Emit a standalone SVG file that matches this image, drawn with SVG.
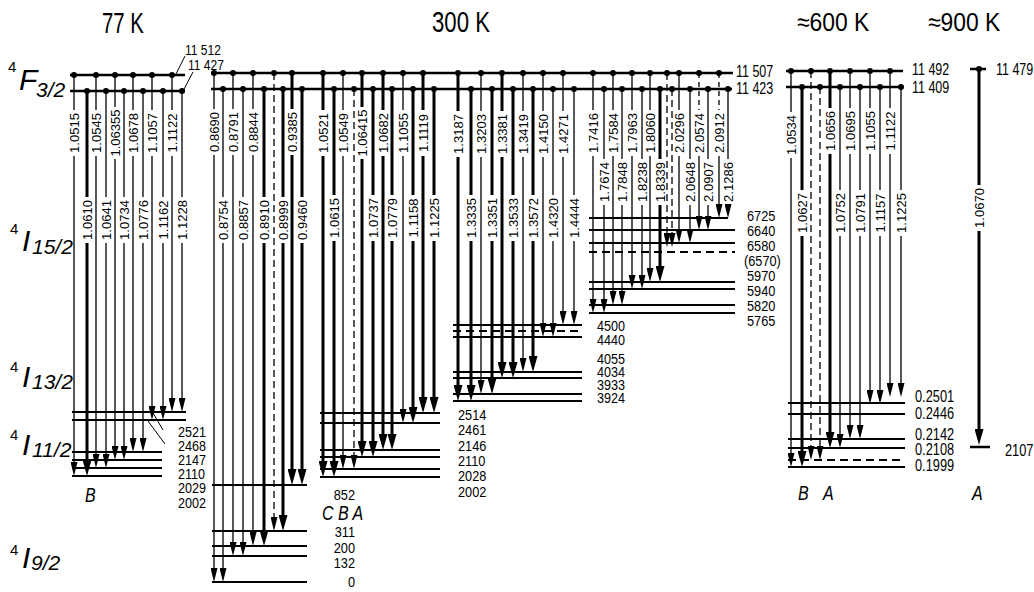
<svg xmlns="http://www.w3.org/2000/svg" width="1034" height="592" viewBox="0 0 1034 592">
<defs>
<marker id="a" viewBox="0 0 14 7" refX="4" refY="3.5" markerWidth="14" markerHeight="7" markerUnits="userSpaceOnUse" orient="auto"><path d="M0,0 L14,3.5 L0,7z" fill="#000"/></marker>
<marker id="b" viewBox="0 0 16 9" refX="4" refY="4.5" markerWidth="16" markerHeight="9" markerUnits="userSpaceOnUse" orient="auto"><path d="M0,0 L16,4.5 L0,9z" fill="#000"/></marker>
</defs>
<style>
.t{stroke:#000;stroke-width:1.3;fill:none;marker-end:url(#a)}
.k{stroke:#000;stroke-width:3;fill:none;marker-end:url(#b)}
.d{stroke:#000;stroke-width:1.3;fill:none;stroke-dasharray:7 4;marker-end:url(#a)}
.dn{stroke:#000;stroke-width:1.3;fill:none;stroke-dasharray:5 4}
.lv{stroke:#000;stroke-width:2;fill:none}
.ld{stroke:#000;stroke-width:2;fill:none;stroke-dasharray:8 5}
.up{stroke:#000;stroke-width:2.6;fill:none}
.thin{stroke:#000;stroke-width:1;fill:none}
circle{fill:#000}
text{font-family:"Liberation Sans",Arial,sans-serif;fill:#000}
.r{font-size:13px;text-anchor:middle}
.n{font-size:14px}
.ti{font-size:30px}
.it{font-size:20px;font-style:italic}
.term{font-size:30px;font-style:italic}
.sup{font-size:15px}
.sub{font-size:21px;font-style:italic}
</style>
<rect width="1034" height="592" fill="#fff"/>

<g id="titles">
<text class="ti" transform="translate(102,33) scale(0.68,1)">77 K</text>
<text class="ti" transform="translate(432,32) scale(0.74,1)">300 K</text>
<text class="ti" style="font-size:26px" transform="translate(797,31) scale(0.88,1)">≈600 K</text>
<text class="ti" style="font-size:26px" transform="translate(928,31) scale(0.88,1)">≈900 K</text>
</g>

<g id="terms">
<text><tspan class="sup" x="8" y="72">4</tspan><tspan class="term" x="19" y="90">F</tspan><tspan class="sub" x="36" y="97">3/2</tspan></text>
<text><tspan class="sup" x="10" y="234">4</tspan><tspan class="term" x="22" y="251">I</tspan><tspan class="sub" x="32" y="254">15/2</tspan></text>
<text><tspan class="sup" x="10" y="372">4</tspan><tspan class="term" x="22" y="387">I</tspan><tspan class="sub" x="32" y="389">13/2</tspan></text>
<text><tspan class="sup" x="10" y="440">4</tspan><tspan class="term" x="22" y="455">I</tspan><tspan class="sub" x="32" y="457">11/2</tspan></text>
<text><tspan class="sup" x="10" y="555">4</tspan><tspan class="term" x="22" y="568">I</tspan><tspan class="sub" x="31" y="570">9/2</tspan></text>
</g>

<g id="node-77K">
<path class="up" d="M70 75H185M70 91H185"/>
<path class="lv" d="M72 412H186M72 420H186M72 452H162M72 460H162M72 468H162M72 476H162"/>
<path class="thin" d="M153 413L163 430M148 421L165 444M176 74L185 56M183 91L193 72"/>
<text class="n" style="font-size:15px" transform="translate(185,55) scale(0.8,1)">11 512</text>
<text class="n" style="font-size:15px" transform="translate(188,70) scale(0.8,1)">11 427</text>
<g class="n">
<text transform="translate(178,437) scale(0.9,1)">2521</text>
<text transform="translate(178,451) scale(0.9,1)">2468</text>
<text transform="translate(178,465) scale(0.9,1)">2147</text>
<text transform="translate(178,479) scale(0.9,1)">2110</text>
<text transform="translate(178,493) scale(0.9,1)">2029</text>
<text transform="translate(178,508) scale(0.9,1)">2002</text>
</g>
<text class="it" transform="translate(85,502) scale(0.8,1)">B</text>
</g>

<g id="node-300K">
<path class="up" d="M211 73H733M211 89H732"/>
<path class="lv" d="M212 485H307M212 531H307M212 546H307M212 556H307M212 582H307"/>
<path class="lv" d="M320 413H440M320 423H440M320 450H440M320 457H440M320 469H440M320 477H440"/>
<path class="lv" d="M453 325H582M453 337H582M453 372H582M453 378H582M453 394H582M453 401H582"/>
<path class="ld" d="M453 331H582"/>
<path class="lv" d="M589 218H728M589 230H735M589 243H735M589 282H735M589 289H735M589 305H735M589 313H735"/>
<path class="ld" d="M589 252H735"/>
<text class="n" transform="translate(736,77) scale(0.78,1)" style="font-size:16px">11 507</text>
<text class="n" transform="translate(736,94) scale(0.78,1)" style="font-size:16px">11 423</text>
<g class="n" text-anchor="end" style="font-size:15px">
<text transform="translate(355,500) scale(0.85,1)">852</text>
<text transform="translate(355,537) scale(0.85,1)">311</text>
<text transform="translate(355,553) scale(0.85,1)">200</text>
<text transform="translate(355,568) scale(0.85,1)">132</text>
<text transform="translate(355,587) scale(0.85,1)">0</text>
</g>
<text class="it" transform="translate(322,520) scale(0.8,1)">C B A</text>
<g class="n" style="font-size:15px">
<text transform="translate(458,420) scale(0.85,1)">2514</text>
<text transform="translate(458,435) scale(0.85,1)">2461</text>
<text transform="translate(458,451) scale(0.85,1)">2146</text>
<text transform="translate(458,466) scale(0.85,1)">2110</text>
<text transform="translate(458,481) scale(0.85,1)">2028</text>
<text transform="translate(458,497) scale(0.85,1)">2002</text>
</g>
<g class="n">
<text transform="translate(597,331) scale(0.9,1)">4500</text>
<text transform="translate(597,345) scale(0.9,1)">4440</text>
<text transform="translate(597,364) scale(0.9,1)">4055</text>
<text transform="translate(597,377) scale(0.9,1)">4034</text>
<text transform="translate(597,390) scale(0.9,1)">3933</text>
<text transform="translate(597,403) scale(0.9,1)">3924</text>
</g>
<g class="n" style="font-size:15px">
<text transform="translate(747,221) scale(0.85,1)">6725</text>
<text transform="translate(747,236) scale(0.85,1)">6640</text>
<text transform="translate(747,251) scale(0.85,1)">6580</text>
<text transform="translate(744,266) scale(0.85,1)">(6570)</text>
<text transform="translate(747,281) scale(0.85,1)">5970</text>
<text transform="translate(747,296) scale(0.85,1)">5940</text>
<text transform="translate(747,311) scale(0.85,1)">5820</text>
<text transform="translate(747,326) scale(0.85,1)">5765</text>
</g>
</g>

<g id="node-600K">
<path class="up" d="M786 71H903M786 87H903"/>
<path class="lv" d="M788 403H905M788 414H905M788 439H905M788 448H905M788 467H905"/>
<path class="ld" d="M788 460H905"/>
<text class="n" transform="translate(912,75) scale(0.78,1)" style="font-size:16px">11 492</text>
<text class="n" transform="translate(912,93) scale(0.78,1)" style="font-size:16px">11 409</text>
<g class="n" style="font-size:16px">
<text transform="translate(915,402) scale(0.8,1)">0.2501</text>
<text transform="translate(915,419) scale(0.8,1)">0.2446</text>
<text transform="translate(915,440) scale(0.8,1)">0.2142</text>
<text transform="translate(915,455) scale(0.8,1)">0.2108</text>
<text transform="translate(915,471) scale(0.8,1)">0.1999</text>
</g>
<text class="it" transform="translate(798,500) scale(0.8,1)">B</text>
<text class="it" transform="translate(823,500) scale(0.8,1)">A</text>
</g>

<g id="node-900K">
<path class="up" d="M970 69H986M970 447H990"/>
<text class="n" transform="translate(996,75) scale(0.78,1)" style="font-size:16px">11 479</text>
<text class="n" transform="translate(1005,456) scale(0.8,1)" style="font-size:16px">2107</text>
<text class="it" transform="translate(972,500) scale(0.8,1)">A</text>
</g>

<g id="connectors">
<!-- 77 K -->
<path class="t" d="M74 75V110M74 156V466"/>
<path class="k" d="M87 91V197M87 243V464"/>
<path class="t" d="M96 75V110M96 156V458"/>
<path class="t" d="M106 91V197M106 243V458"/>
<path class="t" d="M115 75V107M115 159V450"/>
<path class="t" d="M124 91V197M124 243V450"/>
<path class="t" d="M133 75V110M133 156V442"/>
<path class="t" d="M143 91V197M143 243V442"/>
<path class="t" d="M152 75V110M152 156V410"/>
<path class="t" d="M163 91V197M163 243V410"/>
<path class="t" d="M172 75V110M172 156V402"/>
<path class="t" d="M182 91V197M182 243V402"/>
<!-- 300 K, 4I9/2 -->
<path class="t" d="M214 73V109M214 155V572"/>
<path class="t" d="M223 89V197M223 243V572"/>
<path class="t" d="M233 73V109M233 155V546"/>
<path class="t" d="M243 89V197M243 243V546"/>
<path class="t" d="M253 73V109M253 155V536"/>
<path class="k" d="M264 89V197M264 243V534"/>
<path class="d" d="M274 73V521"/>
<path class="k" d="M283 89V197M283 243V519"/>
<path class="k" d="M292 73V109M292 155V473"/>
<path class="k" d="M302 89V197M302 243V473"/>
<!-- 300 K, 4I11/2 -->
<path class="k" d="M323 73V110M323 156V465"/>
<path class="k" d="M334 89V195M334 241V465"/>
<path class="t" d="M343 73V110M343 156V459"/>
<path class="d" d="M354 89V459"/>
<path class="k" d="M362 73V107M362 159V445"/>
<path class="k" d="M373 89V195M373 241V445"/>
<path class="k" d="M383 73V110M383 156V438"/>
<path class="k" d="M392 89V195M392 241V438"/>
<path class="t" d="M403 73V110M403 156V413"/>
<path class="k" d="M413 89V195M413 241V411"/>
<path class="k" d="M423 73V110M423 156V401"/>
<path class="k" d="M434 89V195M434 241V401"/>
<!-- 300 K, 4I13/2 -->
<path class="k" d="M458 73V111M458 157V389"/>
<path class="k" d="M471 89V195M471 241V389"/>
<path class="t" d="M481 73V111M481 157V384"/>
<path class="k" d="M492 89V195M492 241V382"/>
<path class="k" d="M502 73V111M502 157V366"/>
<path class="k" d="M513 89V195M513 241V366"/>
<path class="t" d="M523 73V111M523 157V362"/>
<path class="k" d="M533 89V195M533 241V360"/>
<path class="t" d="M543 73V111M543 157V327"/>
<path class="t" d="M553 89V195M553 241V327"/>
<path class="t" d="M563 73V111M563 157V315"/>
<path class="t" d="M574 89V195M574 241V315"/>
<!-- 300 K, 4I15/2 -->
<path class="t" d="M593 73V110M593 156V303"/>
<path class="t" d="M604 89V159M604 205V303"/>
<path class="t" d="M613 73V110M613 156V295"/>
<path class="t" d="M622 89V159M622 205V295"/>
<path class="t" d="M632 73V110M632 156V279"/>
<path class="t" d="M642 89V159M642 205V279"/>
<path class="t" d="M650 73V110M650 156V272"/>
<path class="k" d="M660 89V159M660 205V270"/>
<path class="d" d="M667 73V237"/>
<path class="d" d="M672 89V237"/>
<path class="t" d="M679 73V110M679 156V233"/>
<path class="t" d="M690 89V159M690 205V233"/>
<path class="dn" d="M699 73V110"/>
<path class="t" d="M699 156V220"/>
<path class="t" d="M708 89V159M708 205V220"/>
<path class="dn" d="M719 73V110"/>
<path class="t" d="M719 156V208"/>
<path class="t" d="M728 89V159M728 205V208"/>
<!-- 600 K -->
<path class="t" d="M791 71V112M791 158V457"/>
<path class="k" d="M802 87V190M802 236V455"/>
<path class="d" d="M811 71V450"/>
<path class="d" d="M820 87V450"/>
<path class="k" d="M830 71V108M830 154V436"/>
<path class="t" d="M840 87V190M840 236V438"/>
<path class="t" d="M850 71V108M850 154V429"/>
<path class="t" d="M860 87V190M860 236V429"/>
<path class="t" d="M870 71V108M870 154V394"/>
<path class="t" d="M880 87V190M880 236V394"/>
<path class="t" d="M890 71V108M890 154V387"/>
<path class="t" d="M901 87V190M901 236V387"/>
<!-- 900 K -->
<path class="k" d="M979 69V185M979 231V433"/>
</g>

<g id="dots">
<circle cx="74" cy="75" r="3"/><circle cx="96" cy="75" r="3"/><circle cx="115" cy="75" r="3"/><circle cx="133" cy="75" r="3"/><circle cx="152" cy="75" r="3"/><circle cx="172" cy="75" r="3"/>
<circle cx="87" cy="91" r="3"/><circle cx="106" cy="91" r="3"/><circle cx="124" cy="91" r="3"/><circle cx="143" cy="91" r="3"/><circle cx="163" cy="91" r="3"/><circle cx="182" cy="91" r="3"/>
<circle cx="214" cy="73" r="3"/><circle cx="233" cy="73" r="3"/><circle cx="253" cy="73" r="3"/><circle cx="274" cy="73" r="3"/><circle cx="292" cy="73" r="3"/>
<circle cx="323" cy="73" r="3"/><circle cx="343" cy="73" r="3"/><circle cx="362" cy="73" r="3"/><circle cx="383" cy="73" r="3"/><circle cx="403" cy="73" r="3"/><circle cx="423" cy="73" r="3"/>
<circle cx="458" cy="73" r="3"/><circle cx="481" cy="73" r="3"/><circle cx="502" cy="73" r="3"/><circle cx="523" cy="73" r="3"/><circle cx="543" cy="73" r="3"/><circle cx="563" cy="73" r="3"/>
<circle cx="593" cy="73" r="3"/><circle cx="613" cy="73" r="3"/><circle cx="632" cy="73" r="3"/><circle cx="650" cy="73" r="3"/><circle cx="667" cy="73" r="3"/><circle cx="679" cy="73" r="3"/><circle cx="699" cy="73" r="3"/><circle cx="719" cy="73" r="3"/>
<circle cx="223" cy="89" r="3"/><circle cx="243" cy="89" r="3"/><circle cx="264" cy="89" r="3"/><circle cx="283" cy="89" r="3"/><circle cx="302" cy="89" r="3"/>
<circle cx="334" cy="89" r="3"/><circle cx="354" cy="89" r="3"/><circle cx="373" cy="89" r="3"/><circle cx="392" cy="89" r="3"/><circle cx="413" cy="89" r="3"/><circle cx="434" cy="89" r="3"/>
<circle cx="471" cy="89" r="3"/><circle cx="492" cy="89" r="3"/><circle cx="513" cy="89" r="3"/><circle cx="533" cy="89" r="3"/><circle cx="553" cy="89" r="3"/><circle cx="574" cy="89" r="3"/>
<circle cx="604" cy="89" r="3"/><circle cx="622" cy="89" r="3"/><circle cx="642" cy="89" r="3"/><circle cx="660" cy="89" r="3"/><circle cx="672" cy="89" r="3"/><circle cx="690" cy="89" r="3"/><circle cx="708" cy="89" r="3"/><circle cx="728" cy="89" r="3"/>
<circle cx="791" cy="71" r="3"/><circle cx="811" cy="71" r="3"/><circle cx="830" cy="71" r="3"/><circle cx="850" cy="71" r="3"/><circle cx="870" cy="71" r="3"/><circle cx="890" cy="71" r="3"/>
<circle cx="802" cy="87" r="3"/><circle cx="820" cy="87" r="3"/><circle cx="840" cy="87" r="3"/><circle cx="860" cy="87" r="3"/><circle cx="880" cy="87" r="3"/><circle cx="901" cy="87" r="3"/>
<circle cx="979" cy="69" r="3"/>
</g>

<g id="transition-labels">
<text class="r" transform="translate(78.5,133) rotate(-90)">1.0515</text>
<text class="r" transform="translate(91.5,220) rotate(-90)">1.0610</text>
<text class="r" transform="translate(100.5,133) rotate(-90)">1.0545</text>
<text class="r" transform="translate(110.5,220) rotate(-90)">1.0641</text>
<text class="r" transform="translate(119.5,133) rotate(-90)">1.06355</text>
<text class="r" transform="translate(128.5,220) rotate(-90)">1.0734</text>
<text class="r" transform="translate(137.5,133) rotate(-90)">1.0678</text>
<text class="r" transform="translate(147.5,220) rotate(-90)">1.0776</text>
<text class="r" transform="translate(156.5,133) rotate(-90)">1.1057</text>
<text class="r" transform="translate(167.5,220) rotate(-90)">1.1162</text>
<text class="r" transform="translate(176.5,133) rotate(-90)">1.1122</text>
<text class="r" transform="translate(186.5,220) rotate(-90)">1.1228</text>

<text class="r" transform="translate(218.5,132) rotate(-90)">0.8690</text>
<text class="r" transform="translate(227.5,220) rotate(-90)">0.8754</text>
<text class="r" transform="translate(237.5,132) rotate(-90)">0.8791</text>
<text class="r" transform="translate(247.5,220) rotate(-90)">0.8857</text>
<text class="r" transform="translate(257.5,132) rotate(-90)">0.8844</text>
<text class="r" transform="translate(268.5,220) rotate(-90)">0.8910</text>
<text class="r" transform="translate(287.5,220) rotate(-90)">0.8999</text>
<text class="r" transform="translate(296.5,132) rotate(-90)">0.9385</text>
<text class="r" transform="translate(306.5,220) rotate(-90)">0.9460</text>

<text class="r" transform="translate(327.5,133) rotate(-90)">1.0521</text>
<text class="r" transform="translate(338.5,218) rotate(-90)">1.0615</text>
<text class="r" transform="translate(347.5,133) rotate(-90)">1.0549</text>
<text class="r" transform="translate(366.5,133) rotate(-90)">1.06415</text>
<text class="r" transform="translate(377.5,218) rotate(-90)">1.0737</text>
<text class="r" transform="translate(387.5,133) rotate(-90)">1.0682</text>
<text class="r" transform="translate(396.5,218) rotate(-90)">1.0779</text>
<text class="r" transform="translate(407.5,133) rotate(-90)">1.1055</text>
<text class="r" transform="translate(417.5,218) rotate(-90)">1.1158</text>
<text class="r" transform="translate(427.5,133) rotate(-90)">1.1119</text>
<text class="r" transform="translate(438.5,218) rotate(-90)">1.1225</text>

<text class="r" transform="translate(462.5,134) rotate(-90)">1.3187</text>
<text class="r" transform="translate(475.5,218) rotate(-90)">1.3335</text>
<text class="r" transform="translate(485.5,134) rotate(-90)">1.3203</text>
<text class="r" transform="translate(496.5,218) rotate(-90)">1.3351</text>
<text class="r" transform="translate(506.5,134) rotate(-90)">1.3381</text>
<text class="r" transform="translate(517.5,218) rotate(-90)">1.3533</text>
<text class="r" transform="translate(527.5,134) rotate(-90)">1.3419</text>
<text class="r" transform="translate(537.5,218) rotate(-90)">1.3572</text>
<text class="r" transform="translate(547.5,134) rotate(-90)">1.4150</text>
<text class="r" transform="translate(557.5,218) rotate(-90)">1.4320</text>
<text class="r" transform="translate(567.5,134) rotate(-90)">1.4271</text>
<text class="r" transform="translate(578.5,218) rotate(-90)">1.4444</text>

<text class="r" transform="translate(597.5,133) rotate(-90)">1.7416</text>
<text class="r" transform="translate(608.5,182) rotate(-90)">1.7674</text>
<text class="r" transform="translate(617.5,133) rotate(-90)">1.7584</text>
<text class="r" transform="translate(626.5,182) rotate(-90)">1.7848</text>
<text class="r" transform="translate(636.5,133) rotate(-90)">1.7963</text>
<text class="r" transform="translate(646.5,182) rotate(-90)">1.8238</text>
<text class="r" transform="translate(654.5,133) rotate(-90)">1.8060</text>
<text class="r" transform="translate(664.5,182) rotate(-90)">1.8339</text>
<text class="r" transform="translate(683.5,133) rotate(-90)">2.0296</text>
<text class="r" transform="translate(694.5,182) rotate(-90)">2.0648</text>
<text class="r" transform="translate(703.5,133) rotate(-90)">2.0574</text>
<text class="r" transform="translate(712.5,182) rotate(-90)">2.0907</text>
<text class="r" transform="translate(723.5,133) rotate(-90)">2.0912</text>
<text class="r" transform="translate(732.5,182) rotate(-90)">2.1286</text>

<text class="r" transform="translate(795.5,135) rotate(-90)">1.0534</text>
<text class="r" transform="translate(806.5,213) rotate(-90)">1.0627</text>
<text class="r" transform="translate(834.5,131) rotate(-90)">1.0656</text>
<text class="r" transform="translate(844.5,213) rotate(-90)">1.0752</text>
<text class="r" transform="translate(854.5,131) rotate(-90)">1.0695</text>
<text class="r" transform="translate(864.5,213) rotate(-90)">1.0791</text>
<text class="r" transform="translate(874.5,131) rotate(-90)">1.1055</text>
<text class="r" transform="translate(884.5,213) rotate(-90)">1.1157</text>
<text class="r" transform="translate(894.5,131) rotate(-90)">1.1122</text>
<text class="r" transform="translate(905.5,213) rotate(-90)">1.1225</text>

<text class="r" transform="translate(983.5,208) rotate(-90)">1.0670</text>
</g>
</svg>
